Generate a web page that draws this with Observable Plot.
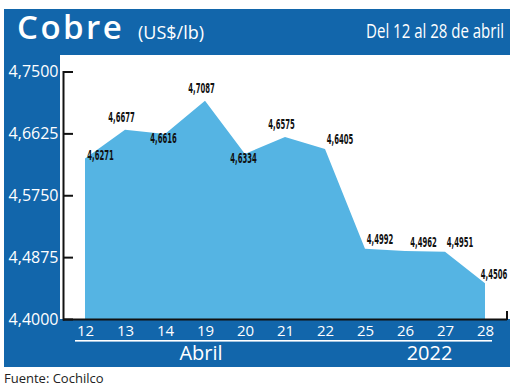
<!DOCTYPE html>
<html><head><meta charset="utf-8">
<script src="https://cdn.jsdelivr.net/npm/d3@7"></script>
<script src="https://cdn.jsdelivr.net/npm/@observablehq/plot@0.6"></script>
<style>
html,body{margin:0;padding:0;background:#fff;}
#wrap{position:relative;width:520px;height:389px;overflow:hidden;font-family:"Open Sans",sans-serif;}
#deco,#chart{position:absolute;left:0;top:0;}
</style></head><body>
<div id="wrap"><div id="deco"></div><div id="chart"></div></div>
<script>
const days = ["12","13","14","19","20","21","22","25","26","27","28"];
const prices = [4.6271,4.6677,4.6616,4.7087,4.6334,4.6575,4.6405,4.4992,4.4962,4.4951,4.4506];
const yTicks = [4.4,4.4875,4.575,4.6625,4.75];
const monthLabel = "Abril";
const yearLabel = "2022";
const title = "Cobre";
const unit = "(US$/lb)";
const period = "Del 12 al 28 de abril";
const source = "Fuente: Cochilco";

const BLUE = "#1266ab", AREA = "#55b4e3";
const data = days.map((d,i)=>({day:d, value:prices[i], i}));
const fmt = v => d3.format(".4f")(v).replace(".", ",");

// decoration layer
const deco = d3.select("#deco").append("svg").attr("width",520).attr("height",389);
deco.append("rect").attr("x",4).attr("y",9).attr("width",506).attr("height",46).attr("fill",BLUE);
deco.append("rect").attr("x",4).attr("y",9).attr("width",56).attr("height",358).attr("fill",BLUE);
deco.append("rect").attr("x",4).attr("y",319).attr("width",506).attr("height",48).attr("fill",BLUE);
deco.append("rect").attr("x",75).attr("y",340).attr("width",417).attr("height",1.6).attr("fill","#fff");
deco.append("rect").attr("x",506).attr("y",311).attr("width",2).attr("height",9).attr("fill","#111");
const t = (txt,x,y,size,opts={}) => {
  const el = deco.append("text").text(txt)
  .attr("font-size",size).attr("fill",opts.fill||"#fff").attr("text-anchor",opts.anchor||"start")
  .attr("font-family",opts.family||"'Open Sans',sans-serif").attr("font-weight",opts.weight||400)
  .attr("letter-spacing",opts.ls||0);
  let s = 1;
  if (opts.len) { const w = el.node().getComputedTextLength(); if (w > 0) s = opts.len / w; }
  el.attr("transform", `translate(${x},${y}) scale(${s},1)`);
  return el;
};
t(title,17,39,33,{weight:600,ls:2.5});
t(unit,138,39,18);
t(period,504,38,19.5,{anchor:"end",len:138});
t(monthLabel,201,360,20,{anchor:"middle"});
t(yearLabel,429.5,360,20,{anchor:"middle"});
t(source,4,383,13,{fill:"#222"});

const groups = [
  {idx:[0], dx:15, dy:-3},
  {idx:[1,3,5], dx:-4, dy:-12.5},
  {idx:[2,4], dx:-2, dy:4.5},
  {idx:[6,7,9], dx:14.5, dy:-10},
  {idx:[8], dx:18, dy:-9},
  {idx:[10], dx:8.5, dy:-9}
];

const chart = Plot.plot({
  width:520, height:389, marginLeft:63, marginRight:13, marginTop:71.5, marginBottom:70,
  x:{type:"point", domain:days, padding:0.5, label:null},
  y:{domain:[4.4,4.75], label:null},
  style:{background:"transparent", overflow:"visible"},
  marks:[
    Plot.areaY(data,{x:"day", y1:4.4, y2:"value", fill:AREA}),
    Plot.ruleY([4.4],{stroke:"#111", strokeWidth:2}),
    Plot.frame({anchor:"left", stroke:"#111", strokeWidth:2}),
    Plot.axisY(yTicks,{tickSize:-10, color:"#111", strokeWidth:2, tickFormat:()=>"", label:null}),
    Plot.axisY(yTicks,{tickSize:0, tickPadding:5, tickFormat:fmt, color:"#fff", fontSize:16, fontFamily:"Open Sans", label:null}),
    Plot.axisX({tickSize:0, tickPadding:6, color:"#fff", fontSize:15, fontFamily:"Open Sans", label:null}),
    ...groups.map(g => Plot.text(data.filter(d=>g.idx.includes(d.i)), {
      x:"day", y:"value", text:d=>fmt(d.value), dx:g.dx, dy:g.dy,
      fontFamily:"DejaVu Sans", fontSize:14, fontWeight:"bold", fill:"#111"}))
  ]
});
document.getElementById("chart").appendChild(chart);
d3.select(chart).selectAll('g[aria-label="text"] text').each(function() {
  const w = this.getComputedTextLength();
  const s = w > 0 ? 26.5 / w : 1;
  const tr = this.getAttribute("transform") || "";
  this.setAttribute("transform", `${tr} scale(${s},1)`);
});
</script>
</body></html>
